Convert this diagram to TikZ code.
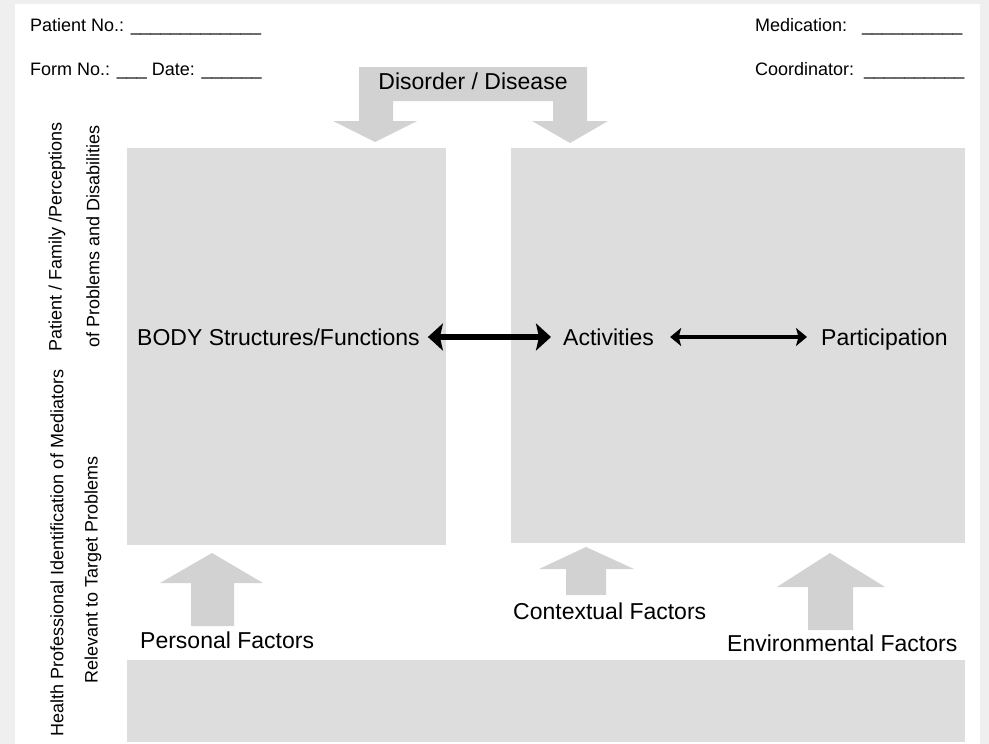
\documentclass[tikz,border=0pt]{standalone}
\usepackage{fontspec}
\setmainfont{Liberation Sans}
\usetikzlibrary{arrows.meta,calc}
\definecolor{bggray}{HTML}{EFEFEF}
\definecolor{boxgray}{HTML}{DDDDDD}
\definecolor{arrgray}{HTML}{D2D2D2}
\begin{document}
\begin{tikzpicture}[x=1pt,y=-1pt,
  hdr/.style={font=\fontsize{18}{20}\selectfont, inner sep=0pt, anchor=base west},
  big/.style={font=\fontsize{23}{26}\selectfont, inner sep=0pt},
  side/.style={font=\fontsize{18}{20}\selectfont, inner sep=0pt, rotate=90},
  region/.style={fill=boxgray},
  blockarrow/.style={fill=arrgray},
  biglink/.style={line width=5.5pt,
     {Stealth[length=15pt,width=27pt,inset=3pt]}-{Stealth[length=15pt,width=27pt,inset=3pt]}},
  smalllink/.style={line width=4.2pt,
     {Stealth[length=11pt,width=18pt,inset=2.5pt]}-{Stealth[length=11pt,width=18pt,inset=2.5pt]}}
]
\useasboundingbox (0,0) rectangle (989,744);
% page background
\fill[bggray] (0,0) rectangle (989,744);
\fill[white] (15,4) rectangle (980,744);

% regions
\fill[region] (127,148) rectangle (446,545);
\fill[region] (511,148) rectangle (965,543);
\fill[region] (127,660) rectangle (965,742);

% header
\node[hdr] (patno) at (30,31) {Patient No.: \_\_\_\_\_\_\_\_\_\_\_\_\_};
\node[hdr] (formno) at (30,75) {Form No.: \_\_\_ Date: \_\_\_\_\_\_};
\node[hdr] (medic) at (755,31) {Medication:\hspace{15pt}\_\_\_\_\_\_\_\_\_\_};
\node[hdr] (coord) at (755,75) {Coordinator:\hspace{10pt}\_\_\_\_\_\_\_\_\_\_};

% disorder / disease block arrow
\fill[blockarrow] (359,67) -- (587,67) -- (587,121) -- (608,121) -- (570,143)
   -- (532,121) -- (553,121) -- (553,101) -- (393,101) -- (393,121) -- (417,121)
   -- (375,142) -- (333,121) -- (359,121) -- cycle;
\node[big, anchor=base] (disorder) at (473,89) {Disorder / Disease};

% side labels
\node[side] (patfam) at (57,237) {Patient / Family /Perceptions};
\node[side] (healthpro) at (57,553) {Health Professional Identification of Mediators};
\node[side] (ofprob) at (93,236) {of Problems and Disabilities};
\node[side] (relevant) at (93,570) {Relevant to Target Problems};

% main row
\node[big, anchor=base west] (body) at (137,345) {BODY Structures/Functions};
\node[big, anchor=base west] (act) at (563,345) {Activities};
\node[big, anchor=base west] (part) at (821,345) {Participation};
\draw[biglink] ($(body.base east)+(8,-8)$) -- ($(act.base west)+(-12,-8)$);
\draw[smalllink] ($(act.base east)+(16,-8)$) -- ($(part.base west)+(-14,-8)$);

% bottom block arrows
\fill[blockarrow] (212,553) -- (263,583) -- (234,583) -- (234,626) -- (191,626) -- (191,583) -- (160,583) -- cycle;
\fill[blockarrow] (586,547) -- (634,569) -- (606,569) -- (606,595) -- (566,595) -- (566,569) -- (539,569) -- cycle;
\fill[blockarrow] (830,553) -- (885,587) -- (853,587) -- (853,630) -- (808,630) -- (808,587) -- (777,587) -- cycle;

\node[big, anchor=base west] (personal) at (140,648) {Personal Factors};
\node[big, anchor=base west] (context) at (513,619) {Contextual Factors};
\node[big, anchor=base west] (environ) at (727,651) {Environmental Factors};
\end{tikzpicture}
\end{document}
